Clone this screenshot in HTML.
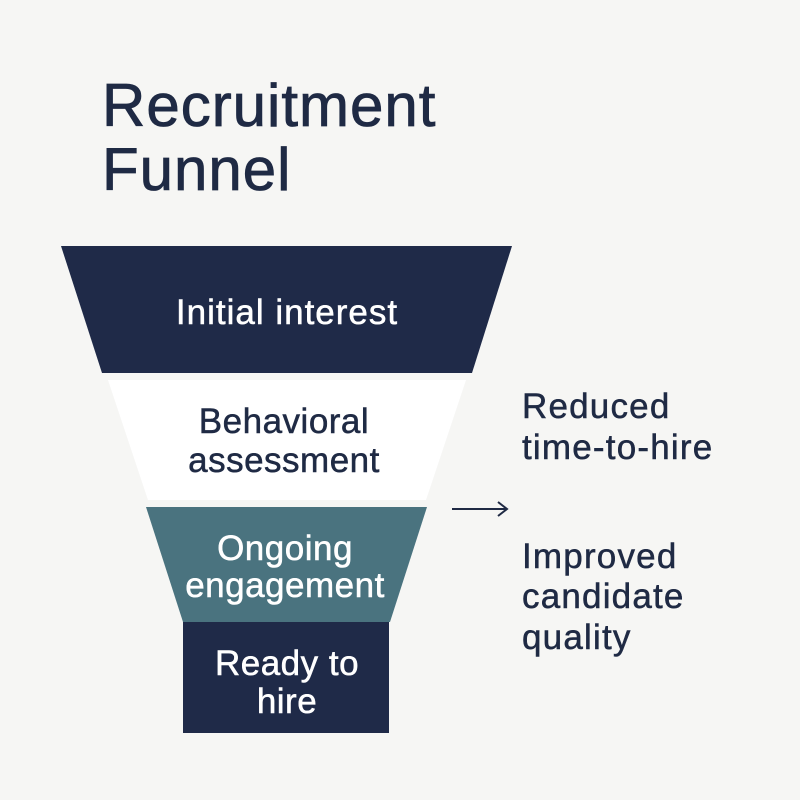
<!DOCTYPE html>
<html><head><style>
body{margin:0;background:#f6f6f4;}
svg{display:block}
text{font-family:"Liberation Sans",sans-serif;}
</style></head><body>
<svg width="800" height="800" viewBox="0 0 800 800">
<rect width="800" height="800" fill="#f6f6f4"/>
<g fill="#1f2a44" stroke="#1f2a44" stroke-width="0.8" font-size="60" letter-spacing="1">
<text x="102" y="126">Recruitment</text>
<text x="102" y="190">Funnel</text>
</g>
<polygon points="61,246 512,246 472,373 102,373" fill="#1f2a48"/>
<polygon points="108,380 466,380 426,500 148,500" fill="#ffffff"/>
<polygon points="146,507 427,507 390,622 183,622" fill="#4a737f"/>
<rect x="183" y="622" width="206" height="111" fill="#1f2a48"/>
<g font-size="35" text-anchor="middle" letter-spacing="0.5" stroke-width="0.5">
<text x="287" y="324" fill="#fff" stroke="#fff" letter-spacing="1">Initial interest</text>
<text x="284" y="433" fill="#1f2a44" stroke="#1f2a44">Behavioral</text>
<text x="284" y="472" fill="#1f2a44" stroke="#1f2a44">assessment</text>
<text x="285" y="560" fill="#fff" stroke="#fff">Ongoing</text>
<text x="285" y="597" fill="#fff" stroke="#fff">engagement</text>
<text x="287" y="675" fill="#fff" stroke="#fff">Ready to</text>
<text x="287" y="713" fill="#fff" stroke="#fff">hire</text>
</g>
<g font-size="35" fill="#1f2a44" stroke="#1f2a44" stroke-width="0.5" letter-spacing="1.2">
<text x="522" y="418">Reduced</text>
<text x="522" y="459">time-to-hire</text>
<text x="522" y="568">Improved</text>
<text x="522" y="608">candidate</text>
<text x="522" y="649">quality</text>
</g>
<line x1="452" y1="509" x2="506" y2="509" stroke="#1f2a44" stroke-width="2"/>
<polyline points="498,502 507,509 498,516" fill="none" stroke="#1f2a44" stroke-width="2"/>
</svg>
</body></html>
